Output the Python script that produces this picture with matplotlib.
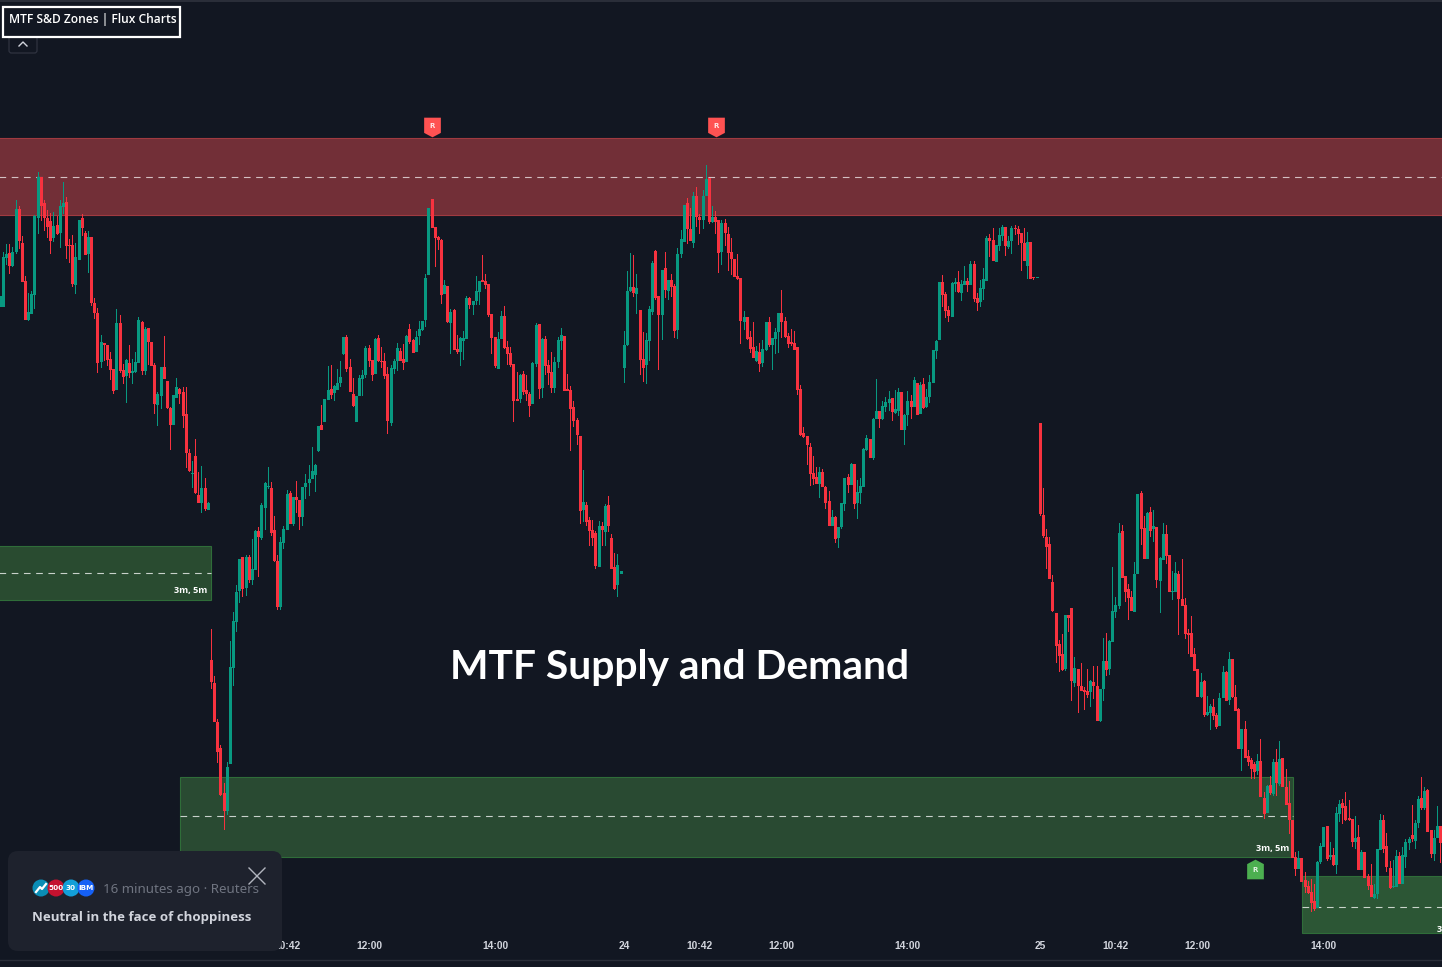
import matplotlib
matplotlib.use('Agg')
import matplotlib.pyplot as plt
from matplotlib.patches import Rectangle, FancyBboxPatch, Circle
import numpy as np

# price bars per session: (open, high, low, close)
day1 = [
    (693,704,693,704),(693,748,693,743),(742,756,735,746),(747,756,726,734),(734,753,733,748),
    (748,800,746,791),(791,794,751,759),(757,764,718,718),(719,724,680,680),(680,707,679,688),
    (686,709,686,706),(705,785,691,784),(782,828,766,823),(823,823,779,794),(797,800,769,782),
    (782,790,762,773),(779,787,746,759),(762,788,758,774),(775,784,765,766),(767,800,752,794),
    (793,818,786,797),(798,803,741,754),(755,761,737,754),(755,765,713,716),(715,757,706,743),
    (740,780,740,780),(782,786,764,772),(767,769,745,745),(746,769,727,763),(763,763,694,697),
    (697,702,681,687),(687,692,627,637),(638,665,632,658),(657,657,639,655),(655,655,634,640),
    (641,648,620,630),(631,631,606,609),(610,691,610,677),(677,685,627,629),(630,636,616,623),
    (624,641,597,640),(637,655,622,627),(627,641,616,629),(628,648,627,638),(637,683,637,680),
    (678,679,625,629),(629,673,625,671),(672,672,635,658),(658,658,634,634),(635,637,586,596),
    (595,608,574,606),(604,633,591,633),(633,664,621,621),(619,619,591,592),(592,593,550,575),
    (575,605,575,605),(602,622,602,613),(611,612,596,606),(608,613,572,584),(586,613,532,547),
    (547,551,528,529),(526,539,512,527),(544,561,506,507),(505,528,497,497),(497,534,487,512),
    (512,522,489,491),(490,498,490,497),
]
day2 = [
    (340,371,311,318),(317,324,278,278),(278,281,237,248),(252,255,204,205),(207,217,170,189),
    (189,238,185,233),(236,359,236,333),(332,388,314,379),(378,415,368,408),(409,441,397,441),
    (443,443,403,411),(412,445,404,443),(443,445,417,420),(420,461,415,431),(430,470,430,469),
    (469,473,423,463),(462,497,460,495),(492,518,470,517),(513,533,511,514),(512,518,464,467),
    (470,484,438,439),(439,445,390,393),(393,463,390,458),(457,474,451,471),(470,510,470,506),
    (507,509,476,476),(476,503,474,503),(503,519,487,500),(500,500,470,483),(483,513,474,513),
    (513,526,501,517),(517,535,504,521),(521,553,521,529),(525,536,508,535),(549,574,548,574),
    (575,595,570,570),(578,601,578,601),(600,634,600,610),(611,635,601,605),(607,615,599,614),
    (610,631,610,617),(617,639,613,623),(646,663,645,663),(663,665,628,631),(633,641,608,608),
    (606,622,593,594),(578,604,578,604),(604,625,604,622),(621,630,604,625),(625,654,622,652),
    (652,655,633,639),(640,640,619,625),(626,662,626,661),(662,665,638,639),(639,653,632,638),
    (639,647,621,624),(626,633,566,579),(577,635,574,632),(631,641,626,639),(639,657,629,652),
    (649,652,639,639),(641,656,630,637),(638,665,638,664),(671,676,656,658),(660,661,647,647),
    (648,669,648,663),(664,679,655,671),(670,679,669,679),(680,726,673,722),(725,792,725,792),
    (801,801,772,772),(773,773,733,762),(763,764,750,760),(760,761,696,705),(706,720,706,715),
    (714,714,677,678),(677,691,646,688),(690,691,650,650),(651,665,646,648),(648,663,634,662),
    (659,669,640,662),(661,704,661,702),(702,703,691,695),(695,699,685,699),(699,724,695,709),
    (708,719,695,719),(720,745,718,718),(719,726,711,715),(716,716,683,685),(686,686,646,662),
    (663,663,632,634),(631,668,631,661),(661,689,661,684),(684,694,651,652),(653,659,635,646),
    (647,653,633,635),(636,636,578,599),(601,628,599,599),(601,626,597,625),(626,629,605,608),
    (610,625,599,606),(606,608,583,594),(596,638,596,637),(636,677,633,675),(676,676,601,611),
    (612,662,602,661),(661,664,625,634),(635,640,615,627),(628,648,607,612),(612,643,607,638),
    (638,663,632,660),(659,672,650,665),(664,664,609,609),(611,626,609,609),(610,614,549,591),
    (593,599,573,579),(580,582,555,565),(564,564,476,489),(490,530,478,498),(495,498,474,478),
    (480,483,454,469),(470,480,454,462),(467,469,431,434),(433,479,433,474),(474,478,454,470),
    (468,496,454,494),(495,504,468,474),(462,466,431,431),(433,447,410,411),(415,446,403,435),
    (426,429,426,429),
]
day3 = [
    (632,669,617,655),(655,729,654,709),(709,747,708,713),(713,745,703,707),(706,726,686,712),
    (690,690,625,640),(641,668,618,632),(635,667,616,660),(659,694,639,691),(688,739,685,737),
    (749,750,700,702),(704,704,630,685),(685,730,660,730),(732,748,702,710),(709,720,700,720),
    (720,726,703,713),(714,716,662,669),(670,752,661,746),(746,770,742,761),(758,795,758,795),
    (797,802,756,771),(771,792,759,759),(757,808,752,804),(804,813,773,783),(783,786,766,780),
    (780,810,771,804),(804,835,804,821),(822,822,776,778),(778,794,777,783),(783,789,766,778),
    (780,780,727,747),(748,780,735,777),(777,781,754,767),(766,773,729,747),(748,762,725,741),
    (741,741,723,723),(724,746,720,721),(722,722,656,679),(678,689,670,683),(683,683,660,661),
    (663,669,647,651),(653,678,642,642),(639,654,638,649),(648,657,628,636),(637,660,633,651),
    (650,678,649,678),(678,683,653,655),(655,662,630,662),(661,672,646,668),(668,687,647,687),
    (687,710,662,678),(679,683,662,663),(664,667,652,656),(658,671,654,656),(657,669,650,650),
    (653,653,605,610),(611,615,564,565),(567,573,562,563),(564,564,535,555),(553,557,514,526),
    (527,544,515,521),(523,533,516,516),(516,533,502,528),(528,531,513,513),(513,514,491,497),
    (499,509,474,474),(474,490,474,483),(483,484,457,461),(462,473,452,473),(473,497,471,497),
    (496,522,489,522),(523,526,507,515),(515,537,515,536),(536,536,491,496),(497,520,481,508),
    (507,522,496,514),(513,552,513,551),(550,565,549,562),(561,561,542,542),(542,582,540,581),
    (581,621,581,589),(589,589,572,581),(581,599,580,594),(593,603,588,598),(597,609,589,601),
    (602,602,579,588),(587,610,586,591),(589,612,584,608),(608,608,570,570),(570,586,555,585),
    (585,609,574,599),(599,605,581,593),(593,623,593,620),(617,617,585,585),(586,618,586,615),
    (616,622,591,592),(593,611,592,603),(603,625,597,618),(617,650,617,650),(649,660,641,659),
    (660,718,660,718),(718,725,693,705),(706,708,682,689),(690,694,678,684),(683,718,683,717),
    (716,722,708,718),(718,729,707,708),(707,720,699,716),(715,734,715,719),(719,722,708,715),
    (715,739,715,736),(736,739,698,701),(702,707,689,697),(698,720,693,712),(711,732,700,721),
    (719,764,719,762),(762,766,743,759),(760,772,739,739),(738,755,738,755),(754,772,749,765),
    (764,775,759,773),(773,773,744,754),(753,764,751,759),(759,774,746,772),(772,775,765,771),
    (771,774,755,766),(767,767,729,757),(757,772,739,739),(734,768,721,758),(758,758,721,721),
    (723,723,720,722),(722,723,722,723),
]
day4 = [
    (577,577,484,486),(485,512,462,464),(463,471,431,453),(456,463,421,421),(418,425,388,389),
    (387,387,337,354),(356,360,328,344),(346,366,329,330),(331,385,329,385),(385,385,368,382),
    (392,392,299,319),(317,343,313,332),(331,331,287,314),(314,337,309,309),(310,313,290,308),
    (309,331,302,305),(308,320,293,319),(318,334,301,314),(314,334,279,279),(279,311,278,311),
    (311,362,299,339),(339,367,324,330),(331,360,325,359),(358,433,358,389),(388,403,382,395),
    (394,477,391,467),(469,475,422,422),(424,424,398,408),(411,416,380,402),(403,409,389,389),
    (388,438,388,426),(426,506,426,506),(507,509,455,471),(472,484,441,441),(441,488,441,487),
    (488,493,463,469),(471,490,458,474),(473,473,412,420),(419,443,387,442),(440,477,440,466),
    (466,475,436,444),(445,445,408,408),(408,429,400,409),(408,438,408,427),(426,429,365,401),
    (401,441,394,394),(395,402,361,366),(367,371,346,365),(367,384,343,343),(346,352,329,329),
    (331,331,303,303),(303,327,302,318),(319,320,283,285),(285,304,284,288),(287,296,270,294),
    (293,301,280,284),(285,287,271,273),(274,307,274,302),(302,334,302,328),(328,329,299,299),
    (300,348,295,341),(341,341,302,303),(303,315,289,289),(291,292,251,251),(251,271,229,271),
    (271,279,242,242),(244,250,234,238),(240,242,221,231),(236,238,221,228),(229,246,225,239),
    (239,261,203,203),(202,208,181,186),(187,215,187,214),(215,224,205,207),(206,241,204,238),
    (238,251,204,217),(216,259,214,241),(242,242,213,213),(213,231,195,195),(197,219,166,180),
    (180,180,142,142),(143,148,124,131),(131,149,131,142),(142,142,118,118),(120,128,107,113),
    (114,119,106,107),(108,121,88,97),(99,116,89,91),(92,139,92,138),(138,157,136,154),
    (153,173,153,173),(174,174,139,141),(143,158,140,145),(145,152,134,135),(135,193,126,187),
    (186,200,178,196),(197,201,176,192),(194,208,179,180),(182,200,179,180),(181,181,153,158),
    (158,184,151,162),(163,175,130,130),(130,150,130,148),(148,148,122,122),(124,126,110,114),
    (115,136,103,103),(102,116,101,106),(106,151,101,151),(150,186,150,180),(180,185,147,151),
    (154,167,128,133),(132,139,111,112),(113,140,112,114),(113,150,113,144),(144,148,116,116),
    (116,153,116,145),(143,161,132,158),(157,163,150,161),(165,195,158,161),(159,180,151,177),
    (177,204,172,201),(202,223,190,192),(192,213,190,209),(210,211,168,168),(170,170,142,146),
    (146,170,139,162),(162,194,162,174),(174,174,137,157),
]
days = [day1, day2, day3, day4]
day_start = [0, 67, 198, 330]

tick_pos = [91, 117, 157, 198, 222, 248, 288, 330, 354, 380, 420]
tick_labels = ['10:42', '12:00', '14:00', '24', '10:42', '12:00', '14:00', '25', '10:42', '12:00', '14:00']

# zones in bars / price
zone_left = [-5, 57, 413]
zone_right = [67, 410.3, 470]
zone_top = [454, 223, 124]
zone_bottom = [400, 143, 67]
zone_mid = [427, 184, 93]
zone_fill = ['#294b30', '#294a32', '#2c5635']
supply_top, supply_mid, supply_bottom = 862, 823, 785
retest_x = [137, 227]
retest_y = [873, 873]
retest_up_x = [398]
retest_up_y = [131.5]

BG = '#121722'
GREEN = '#089981'
RED = '#f7323f'
LABEL_FONT = 'Open Sans'

fig = plt.figure(figsize=(14.42, 9.67), dpi=100, facecolor=BG)
ax = fig.add_axes([0, 0, 1, 1], facecolor=BG)
ax.set_xlim(-0.095, 457.47)
ax.set_ylim(33, 1000)
for s in ax.spines.values():
    s.set_visible(False)
ax.set_yticks([])
bar_px = 1442 / (457.47 + 0.095)

# zones go under the candles
ax.add_patch(Rectangle((-5, supply_bottom), 480, supply_top - supply_bottom, fc='#722f37', ec='#a03a40', lw=0.8, zorder=1))
ax.plot([-5, 475], [supply_mid, supply_mid], color='white', alpha=0.7, lw=0.8, dashes=(6, 5), zorder=1.5)
for i in range(3):
    ax.add_patch(Rectangle((zone_left[i], zone_bottom[i]), zone_right[i] - zone_left[i], zone_top[i] - zone_bottom[i],
                           fc=zone_fill[i], ec='#2f6d39', lw=0.8, zorder=1))
    ax.plot([zone_left[i], zone_right[i]], [zone_mid[i], zone_mid[i]], color='white', alpha=0.75, lw=0.8,
            dashes=(6, 5), zorder=1.5)
ax.text(65.7, 409, '3m, 5m', color='white', fontsize=6.6, fontweight='bold', ha='right', va='center', zorder=2, family=LABEL_FONT)
ax.text(409, 152, '3m, 5m', color='white', fontsize=6.6, fontweight='bold', ha='right', va='center', zorder=4, family=LABEL_FONT)
ax.text(457.4, 71, '3', color='white', fontsize=6.6, fontweight='bold', ha='right', va='center', zorder=4, family=LABEL_FONT)

# candles, 3 px bodies and 1 px wicks
for bars, start in zip(days, day_start):
    o, h, l, c = np.array(bars, dtype=float).T
    x = start + np.arange(len(bars))
    cols = [GREEN if up else RED for up in c >= o]
    ax.bar(x, h - l, bottom=l, width=1 / bar_px, color=cols, lw=0, zorder=3)
    ax.bar(x, np.abs(c - o), bottom=np.minimum(o, c), width=3 / bar_px, color=cols, lw=0, zorder=3.2)

# retest pins
pin_down = [(-0.85, 1), (0.85, 1), (0.85, -0.55), (0, -1), (-0.85, -0.55), (-0.85, 1)]
pin_up = [(-0.85, -1), (0.85, -1), (0.85, 0.55), (0, 1), (-0.85, 0.55), (-0.85, -1)]
ax.scatter(retest_x, retest_y, marker=pin_down, s=200, color='#ff5252', lw=0, zorder=5)
ax.scatter(retest_up_x, retest_up_y, marker=pin_up, s=200, color='#4caf50', lw=0, zorder=5)
for xx, yy in zip(retest_x + retest_up_x, [874.5, 874.5, 130]):
    ax.text(xx, yy, 'R', color='white', fontsize=5, fontweight='bold', ha='center', va='center', zorder=6, alpha=0.85)

# time axis
ax.set_xticks(tick_pos)
ax.set_xticklabels(tick_labels, fontsize=7.4, fontweight='bold', color='#d1d4dc', family='Liberation Sans')
ax.tick_params(axis='x', length=0, pad=-18.5)
ax.axhline(40, color='#2a2e39', lw=1, zorder=2)
ax.axhspan(998, 1000, color='#2a2e39', lw=0, zorder=2)

# overlay in screen pixels for the title, header and news card
ui = fig.add_axes([0, 0, 1, 1], facecolor='none', zorder=5)
ui.set_xlim(0, 1442)
ui.set_ylim(967, 0)
ui.set_axis_off()

ui.text(680, 679, 'MTF Supply and Demand', color='white', fontsize=29.3, fontweight='bold', ha='center', va='baseline',
        family='Lato')

ui.add_patch(FancyBboxPatch((9, 34), 28, 19, boxstyle='round,pad=0,rounding_size=2.5', fc='none', ec='#2f3340', lw=0.9))
ui.plot([19, 23, 27], [46, 42, 46], color='#d1d4dc', lw=1)
ui.add_patch(Rectangle((3, 6.5), 177, 30.5, fc=BG, ec='white', lw=1.6))
ui.text(9, 20, 'MTF S&D Zones | Flux Charts', color='white', fontsize=8.65, ha='left', va='center', family=LABEL_FONT,
        fontweight='semibold')

ui.add_patch(FancyBboxPatch((8, 851), 274, 100, boxstyle='round,pad=0,rounding_size=10', fc='#1e222d', ec='none'))
icon_x = [41, 56, 71, 86]
icon_col = ['#0a8db5', '#c4122f', '#139fd8', '#1560f5']
icon_txt = ['', '500', '30', 'IBM']
for xx, cc, tt in zip(icon_x, icon_col, icon_txt):
    ui.add_patch(Circle((xx, 888), 8.5, fc=cc, ec='none'))
    if tt:
        ui.text(xx, 888, tt, color='white', fontsize=5.2, fontweight='bold', ha='center', va='center')
ui.plot([36, 40, 42, 46], [892, 887, 889, 884], color='white', lw=1.6)
ui.text(103, 889, '16 minutes ago · Reuters', color='#6f7480', fontsize=9.6, ha='left', va='center', family='Noto Sans')
ui.text(32, 917, 'Neutral in the face of choppiness', color='#d1d4dc', fontsize=9.5, fontweight='bold', ha='left', va='center',
        family=LABEL_FONT)
ui.plot([249, 265], [868, 884], color='#b2b5be', lw=1)
ui.plot([249, 265], [884, 868], color='#b2b5be', lw=1)

fig.savefig('out.png', dpi=100, facecolor=BG)
